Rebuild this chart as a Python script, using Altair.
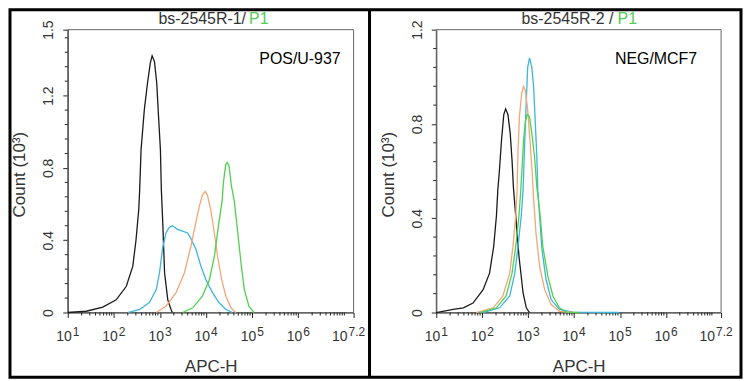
import json
import altair as alt
import pandas as pd

# ---------------- data ----------------
# x values are log10(APC-H), counts are in units of 10^3
series_names = ["black", "blue", "orange", "green"]
series_colors = ["#1a1a1a", "#3db6dc", "#f2a679", "#4fd14f"]

# Panel 1 : POS/U-937
L_black_v = [1.0, 1.40, 1.76, 2.05, 2.27, 2.41, 2.48, 2.54, 2.56, 2.59, 2.66, 2.73, 2.79, 2.83,
             2.88, 2.93, 2.97, 3.01, 3.03, 3.06, 3.10, 3.17, 3.24, 3.27]
L_black_c = [0, 0.007, 0.03, 0.07, 0.145, 0.255, 0.40, 0.57, 0.68, 0.90, 1.12, 1.27, 1.38, 1.42,
             1.39, 1.27, 1.08, 0.90, 0.68, 0.50, 0.22, 0.07, 0.017, 0]
L_blue_v = [2.30, 2.56, 2.77, 2.92, 2.99, 3.06, 3.13, 3.20, 3.27, 3.38, 3.49, 3.60, 3.67, 3.78,
            3.89, 4.00, 4.14, 4.28, 4.43, 4.57]
L_blue_c = [0, 0.017, 0.055, 0.127, 0.22, 0.36, 0.44, 0.47, 0.48, 0.46, 0.45, 0.44, 0.41, 0.35,
            0.255, 0.18, 0.11, 0.055, 0.017, 0]
L_orange_v = [2.92, 3.13, 3.35, 3.53, 3.67, 3.78, 3.85, 3.92, 3.98, 4.03, 4.10, 4.18, 4.25, 4.34,
              4.43, 4.54, 4.64]
L_orange_c = [0, 0.035, 0.11, 0.22, 0.365, 0.50, 0.585, 0.65, 0.67, 0.65, 0.57, 0.44, 0.31, 0.18,
              0.09, 0.026, 0]
L_green_v = [3.49, 3.71, 3.92, 4.07, 4.18, 4.28, 4.35, 4.37, 4.40, 4.43, 4.46, 4.50, 4.55, 4.61,
             4.68, 4.76, 4.83, 4.93, 5.04]
L_green_c = [0, 0.026, 0.09, 0.18, 0.31, 0.50, 0.62, 0.70, 0.77, 0.82, 0.83, 0.81, 0.70, 0.62,
             0.46, 0.27, 0.127, 0.035, 0]

# Panel 2 : NEG/MCF7
R_black_v = [1.0, 1.37, 1.59, 1.80, 2.02, 2.16, 2.25, 2.31, 2.34, 2.37, 2.42, 2.47, 2.51, 2.56,
             2.61, 2.65, 2.68, 2.73, 2.80, 2.89, 2.96, 3.03]
R_black_c = [0, 0.013, 0.02, 0.04, 0.097, 0.167, 0.28, 0.41, 0.52, 0.59, 0.73, 0.84, 0.864, 0.84,
             0.76, 0.645, 0.53, 0.41, 0.24, 0.083, 0.02, 0]
R_orange_v = [1.87, 2.24, 2.45, 2.60, 2.67, 2.73, 2.76, 2.78, 2.81, 2.86, 2.90, 2.94, 2.99, 3.04,
              3.09, 3.12, 3.17, 3.25, 3.36, 3.50, 3.68, 3.97]
R_orange_c = [0, 0.02, 0.07, 0.167, 0.28, 0.41, 0.52, 0.69, 0.83, 0.93, 0.96, 0.94, 0.86, 0.73,
              0.59, 0.48, 0.34, 0.195, 0.097, 0.034, 0.005, 0]
R_blue_v = [2.02, 2.38, 2.60, 2.71, 2.78, 2.85, 2.89, 2.92, 2.96, 2.99, 3.03, 3.08, 3.12, 3.15,
            3.19, 3.21, 3.25, 3.30, 3.39, 3.50, 3.68, 3.97, 4.98]
R_blue_c = [0, 0.02, 0.07, 0.167, 0.28, 0.41, 0.52, 0.69, 0.90, 1.04, 1.08, 1.04, 0.955, 0.83,
            0.66, 0.52, 0.41, 0.27, 0.14, 0.055, 0.013, 0.002, 0]
R_green_v = [1.95, 2.31, 2.52, 2.65, 2.73, 2.80, 2.84, 2.87, 2.90, 2.94, 2.98, 3.03, 3.08, 3.14,
             3.19, 3.25, 3.32, 3.43, 3.54, 3.68, 3.83, 4.12]
R_green_c = [0, 0.02, 0.07, 0.167, 0.28, 0.41, 0.52, 0.62, 0.73, 0.81, 0.84, 0.83, 0.76, 0.66,
             0.53, 0.435, 0.28, 0.153, 0.07, 0.02, 0.002, 0]

# axis ticks
x_tick_exp = [1, 2, 3, 4, 5, 6]          # labelled 10^n
x_end_exp = 7.2                           # last label 10^7.2 (axis end)
x_end_text = "7.2"
x_minor_mult = [2, 3, 4, 5, 6, 7, 8, 9]
x_minor_decades = [1, 2, 3, 4, 5, 6]
L_y_ticks = [0, 0.4, 0.8, 1.2, 1.565]
L_y_labels = ["0", "0.4", "0.8", "1.2", "1.5"]
L_y_minor = [0.08, 0.16, 0.24, 0.32, 0.48, 0.56, 0.64, 0.72, 0.88, 0.96, 1.04, 1.12,
             1.28, 1.36, 1.44, 1.52]
R_y_ticks = [0, 0.4, 0.8, 1.2]
R_y_labels = ["0", "0.4", "0.8", "1.2"]
R_y_minor = [0.08, 0.16, 0.24, 0.32, 0.48, 0.56, 0.64, 0.72, 0.88, 0.96, 1.04, 1.12]

# ---------------- layout / style ----------------
FONT = "Liberation Sans"
W, H = 734, 369
X_MIN, X_MAX = 10 ** 1, 10 ** x_end_exp
LABEL_BASE_Y = 333     # baseline of "10" in tick labels (px)
LABEL_EXP_Y = 328      # baseline of the exponent (px)

x_tick_values = [10 ** e for e in x_tick_exp] + [X_MAX]
x_minor = [m * 10 ** d for d in x_minor_decades for m in x_minor_mult] + [10 ** 7]

color_scale = alt.Scale(domain=series_names, range=series_colors)


def curves_df(vs, cs):
    rows = []
    for name, v, c in zip(series_names, vs, cs):
        for vi, ci in zip(v, c):
            rows.append({"x": 10 ** vi, "c": ci, "s": name})
    return pd.DataFrame(rows)


def panel(df, y_max, y_ticks, y_labels, y_minor, x_px, y_px, ann_text, ann_x, ann_y):
    xs = alt.Scale(type="log", domain=[X_MIN, X_MAX], range=x_px, nice=False)
    ys = alt.Scale(domain=[0, y_max], range=y_px, nice=False, zero=True)
    common = dict(grid=False, domainColor="#222", tickColor="#222", tickSize=5,
                  labelFont=FONT, labelFontSize=14, labelColor="#333",
                  titleFont=FONT, titleFontSize=17, titleColor="#333", titleFontWeight="normal")
    xa = alt.Axis(orient="bottom", offset=y_px[0] - H, values=x_tick_values, labels=False,
                  title="APC-H", titleY=59, titleBaseline="alphabetic", **common)
    y_expr = (f"{json.dumps(y_labels)}[indexof({json.dumps(y_ticks)}, datum.value)]")
    ya = alt.Axis(orient="left", offset=-x_px[0], values=y_ticks, labelExpr=y_expr,
                  labelAngle=270, labelAlign="center", labelBaseline="alphabetic",
                  labelPadding=10, labelFlush=False, labelOverlap=False,
                  title="Count (10³)", titleAngle=270, titleX=-43,
                  titleY=(y_px[0] + y_px[1]) / 2 + 3, titleAlign="center",
                  titleBaseline="alphabetic", **common)

    def X(f):
        return alt.X(f, type="quantitative", scale=xs, axis=xa)

    def Y(f):
        return alt.Y(f, type="quantitative", scale=ys, axis=ya)

    box = alt.Chart(pd.DataFrame({"x": [X_MIN], "x2": [X_MAX], "c": [0], "c2": [y_max]})).mark_rect(
        fillOpacity=0, stroke="#666", strokeWidth=1).encode(
        x=X("x"), x2="x2", y=Y("c"), y2="c2")
    xmin = alt.Chart(pd.DataFrame({"x": x_minor, "c": [0] * len(x_minor)})).mark_rule(
        color="#222", strokeWidth=1, y2Offset=3, clip=False).encode(
        x=X("x"), y=Y("c"), y2="c")
    ymin = alt.Chart(pd.DataFrame({"x": [X_MIN] * len(y_minor), "c": y_minor})).mark_rule(
        color="#222", strokeWidth=1, x2Offset=-3, clip=False).encode(
        x=X("x"), x2="x", y=Y("c"))
    lines = alt.Chart(df).mark_line(strokeWidth=1.3).encode(
        x=X("x"), y=Y("c"),
        color=alt.Color("s:N", scale=color_scale, legend=None),
        detail="s:N")
    ann = alt.Chart(pd.DataFrame({"x": [ann_x], "c": [ann_y], "t": [ann_text]})).mark_text(
        align="right", baseline="alphabetic", font=FONT, fontSize=16, color="black").encode(
        x=X("x"), y=Y("c"), text="t:N")

    # x tick labels: "10" with a raised exponent
    lab = pd.DataFrame({"x": [10 ** e for e in x_tick_exp],
                        "b": ["10"] * len(x_tick_exp),
                        "e": [str(e) for e in x_tick_exp]})
    lab_end = pd.DataFrame({"x": [X_MAX], "b": ["10"], "e": [x_end_text]})
    tstyle = dict(font=FONT, color="#333", baseline="alphabetic")
    base1 = alt.Chart(lab).mark_text(align="right", dx=4, fontSize=14, **tstyle).encode(
        x=X("x"), y=alt.value(LABEL_BASE_Y), text="b:N")
    exp1 = alt.Chart(lab).mark_text(align="left", dx=5, fontSize=12, **tstyle).encode(
        x=X("x"), y=alt.value(LABEL_EXP_Y), text="e:N")
    base2 = alt.Chart(lab_end).mark_text(align="right", dx=-6, fontSize=14, **tstyle).encode(
        x=X("x"), y=alt.value(LABEL_BASE_Y), text="b:N")
    exp2 = alt.Chart(lab_end).mark_text(align="left", dx=-5, fontSize=12, **tstyle).encode(
        x=X("x"), y=alt.value(LABEL_EXP_Y), text="e:N")
    return alt.layer(box, xmin, ymin, lines, ann, base1, exp1, base2, exp2)


p1 = panel(curves_df([L_black_v, L_blue_v, L_orange_v, L_green_v],
                     [L_black_c, L_blue_c, L_orange_c, L_green_c]),
           1.565, L_y_ticks, L_y_labels, L_y_minor, [58, 345], [304, 20],
           "POS/U-937", 10 ** 6.92, 1.377)
p2 = panel(curves_df([R_black_v, R_blue_v, R_orange_v, R_green_v],
                     [R_black_c, R_blue_c, R_orange_c, R_green_c]),
           1.2, R_y_ticks, R_y_labels, R_y_minor, [428, 714], [304, 20],
           "NEG/MCF7", 10 ** 6.68, 1.055)

one = pd.DataFrame({"k": [0]})
divider = alt.Chart(one).mark_rule(color="black", strokeWidth=3).encode(
    x=alt.value(361), y=alt.value(0), y2=alt.value(H))


def title_part(text, x, align, color):
    return alt.Chart(one).mark_text(text=text, align=align, baseline="alphabetic",
                                    font=FONT, fontSize=16, color=color).encode(
        x=alt.value(x), y=alt.value(14))


t1a = title_part("bs-2545R-1/", 237, "right", "#333")
t1b = title_part("P1", 240, "left", "#55cc55")
t2a = title_part("bs-2545R-2 /", 606, "right", "#333")
t2b = title_part("P1", 610, "left", "#55cc55")

chart = alt.layer(p1, p2, divider, t1a, t1b, t2a, t2b).resolve_scale(
    x="independent", y="independent").properties(
    width=W, height=H, padding={"left": 2, "top": 1, "right": 2, "bottom": 2},
    autosize=alt.AutoSizeParams(type="none"),
    background="white").configure_view(stroke="black", strokeWidth=3)

chart.save("out.html", embed_options={"renderer": "svg", "actions": False})
